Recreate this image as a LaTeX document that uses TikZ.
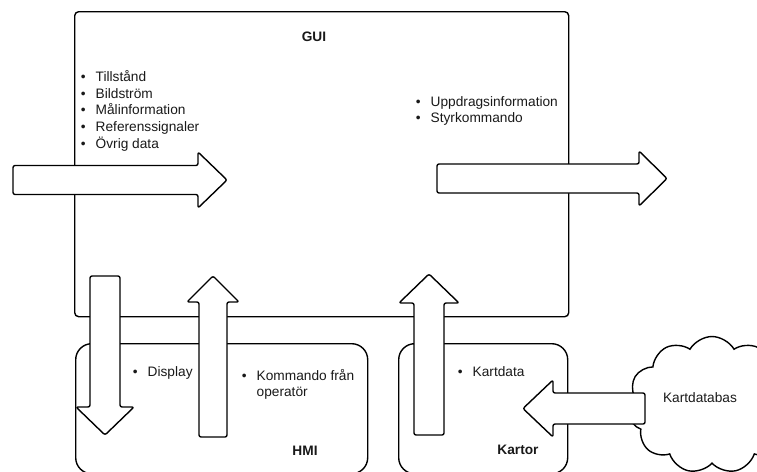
\documentclass[tikz,border=0pt]{standalone}
\usepackage{fontspec}
\setmainfont{Liberation Sans}
\usetikzlibrary{shapes.symbols}
\newcommand\blt{\makebox[14.9pt][l]{•}}
\begin{document}
\begin{tikzpicture}[x=1pt,y=-1pt,
  box/.style={draw=black,line width=1.4pt,inner sep=0pt,anchor=north west},
  blockarrow/.style={draw=black,fill=white,line width=1.4pt,rounded corners=2pt,line join=round},
  lbl/.style={inner sep=0pt,font=\fontsize{13.7}{16.7}\selectfont,text=black!90},
  title/.style={lbl,font=\fontsize{13.7}{16.7}\selectfont\bfseries}]
\useasboundingbox (0,0) rectangle (757,471);
% boxes
\node[box,rounded corners=4pt,minimum width=494pt,minimum height=305pt] (gui) at (74,11) {};
\node[box,rounded corners=16pt,minimum width=292pt,minimum height=130pt] (hmi) at (75,343) {};
\node[box,rounded corners=16pt,minimum width=169pt,minimum height=130pt] (kartor) at (398,343) {};
\node[cloud,draw=black,line width=1.4pt,cloud puffs=11,cloud puff arc=120,cloud ignores aspect,
      minimum width=169pt,minimum height=137pt,inner sep=0pt] (kdb) at (712,405) {};
% block arrows
\draw[blockarrow] (13,165.5) -- (198,165.5) -- (198,152) -- (227,180) -- (198,208) -- (198,194.5) -- (13,194.5) -- cycle;
\draw[blockarrow] (437,164) -- (639,164) -- (639,151) -- (667,178.5) -- (639,206) -- (639,193) -- (437,193) -- cycle;
\draw[blockarrow] (90,276) -- (120,276) -- (120,407) -- (134,407) -- (105,435) -- (76,407) -- (90,407) -- cycle;
\draw[blockarrow] (199,437) -- (199,302) -- (187,302) -- (213,276) -- (239,302) -- (227,302) -- (227,437) -- cycle;
\draw[blockarrow] (414,435) -- (414,303) -- (399,303) -- (429,274) -- (459,303) -- (444,303) -- (444,435) -- cycle;
\draw[blockarrow] (645,393) -- (553,393) -- (553,380) -- (523,408.5) -- (553,437) -- (553,424) -- (645,424) -- cycle;
% texts
\node[title,anchor=base] (guititle) at (314,41) {GUI};
\node[lbl,anchor=base west] (inlist) at (80.6,81.5) {\begin{tabular}[t]{@{}l@{}}\blt Tillstånd\\\blt Bildström\\\blt Målinformation\\\blt Referenssignaler\\\blt Övrig data\end{tabular}};
\node[lbl,anchor=base west] (outlist) at (415.6,106) {\begin{tabular}[t]{@{}l@{}}\blt Uppdragsinformation\\\blt Styrkommando\end{tabular}};
\node[lbl,anchor=base west] (display) at (132.6,376.7) {\blt Display};
\node[lbl,anchor=base west] (kommando) at (241.6,380) {\begin{tabular}[t]{@{}l@{}}\blt Kommando från\\\hspace*{14.9pt}operatör\end{tabular}};
\node[lbl,anchor=base west] (kartdata) at (457.6,376) {\blt Kartdata};
\node[title,anchor=base] (hmititle) at (305,455) {HMI};
\node[title,anchor=base] (kartortitle) at (518,454) {Kartor};
\node[lbl,anchor=base] (kdbtext) at (700,402) {Kartdatabas};
\end{tikzpicture}
\end{document}
